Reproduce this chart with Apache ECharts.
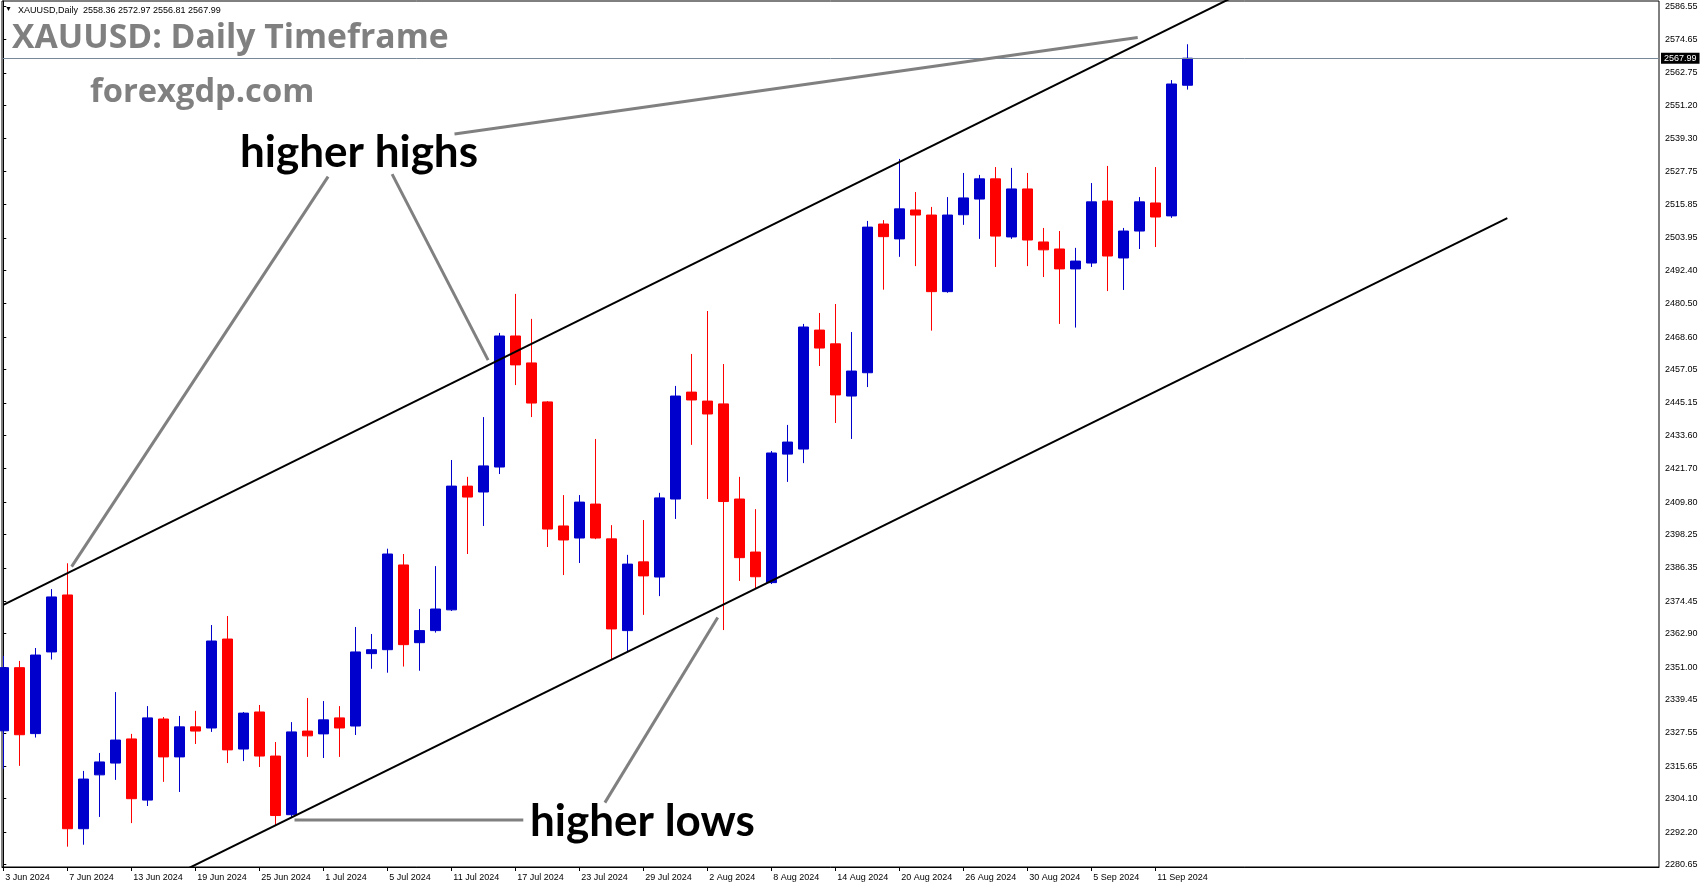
<!DOCTYPE html>
<html><head><meta charset="utf-8">
<script src="https://cdn.jsdelivr.net/npm/echarts@6.0.0/dist/echarts.min.js"></script>
<style>html,body{margin:0;padding:0;background:#fff}#chart{width:1705px;height:888px}</style>
</head><body><div id="chart"></div>
<script>
const dates = ['3 Jun 2024','4 Jun 2024','5 Jun 2024','6 Jun 2024','7 Jun 2024',
'10 Jun 2024','11 Jun 2024','12 Jun 2024','13 Jun 2024','14 Jun 2024',
'17 Jun 2024','18 Jun 2024','19 Jun 2024','20 Jun 2024','21 Jun 2024',
'24 Jun 2024','25 Jun 2024','26 Jun 2024','27 Jun 2024','28 Jun 2024',
'1 Jul 2024','2 Jul 2024','3 Jul 2024','4 Jul 2024','5 Jul 2024',
'8 Jul 2024','9 Jul 2024','10 Jul 2024','11 Jul 2024','12 Jul 2024',
'15 Jul 2024','16 Jul 2024','17 Jul 2024','18 Jul 2024','19 Jul 2024',
'22 Jul 2024','23 Jul 2024','24 Jul 2024','25 Jul 2024','26 Jul 2024',
'29 Jul 2024','30 Jul 2024','31 Jul 2024','1 Aug 2024','2 Aug 2024',
'5 Aug 2024','6 Aug 2024','7 Aug 2024','8 Aug 2024','9 Aug 2024',
'12 Aug 2024','13 Aug 2024','14 Aug 2024','15 Aug 2024','16 Aug 2024',
'19 Aug 2024','20 Aug 2024','21 Aug 2024','22 Aug 2024','23 Aug 2024',
'26 Aug 2024','27 Aug 2024','28 Aug 2024','29 Aug 2024','30 Aug 2024',
'2 Sep 2024','3 Sep 2024','4 Sep 2024','5 Sep 2024','6 Sep 2024',
'9 Sep 2024','10 Sep 2024','11 Sep 2024','12 Sep 2024','13 Sep 2024'];

const opens = [2328.3,2350.8,2327.3,2356.4,2376.7, 2293.4,2312.6,2316.8,2325.4,2303.6,
2332.5,2319.0,2329.7,2329.3,2361.0, 2321.8,2335.0,2319.3,2298.4,2328.2,
2327.2,2332.9,2330.0,2355.8,2357.2, 2387.4,2359.7,2364.0,2371.4,2415.5,
2413.4,2422.3,2469.0,2459.4,2445.5, 2401.3,2397.0,2409.1,2396.7,2364.0,
2388.5,2383.1,2410.9,2449.0,2445.8, 2444.8,2410.9,2392.0,2381.1,2426.9,
2428.7,2471.1,2466.2,2447.6,2455.9, 2508.9,2503.6,2513.9,2512.1,2484.8,
2512.2,2517.8,2525.0,2504.3,2521.4, 2502.5,2500.0,2492.9,2495.0,2517.1,
2496.8,2506.4,2516.4,2511.8,2558.36];

const closes = [2350.8,2326.9,2355.3,2376.0,2293.4, 2311.1,2317.2,2325.0,2304.1,2332.9,
2319.0,2329.7,2328.2,2360.3,2321.5, 2334.6,2319.3,2298.1,2327.9,2326.5,
2332.2,2329.3,2356.4,2357.2,2391.3, 2359.0,2364.0,2371.7,2415.5,2411.6,
2422.7,2469.0,2458.7,2445.1,2400.2, 2396.3,2409.8,2397.0,2364.6,2387.7,
2383.5,2411.3,2447.6,2446.2,2441.2, 2410.0,2390.0,2383.2,2427.3,2431.2,
2472.2,2464.7,2448.0,2456.5,2507.8, 2504.4,2514.3,2512.1,2484.8,2512.1,
2518.2,2525.0,2504.6,2521.4,2503.2, 2499.7,2492.9,2495.7,2516.8,2497.5,
2506.4,2516.8,2511.4,2558.8,2567.99];

const lows = [2314.8,2315.8,2325.9,2353.7,2287.0, 2287.7,2297.6,2310.8,2295.4,2301.5,
2310.1,2306.5,2323.6,2327.9,2316.8, 2317.5,2315.4,2294.7,2297.3,2319.0,
2318.6,2319.0,2326.8,2350.4,2349.0, 2351.2,2349.7,2363.3,2371.0,2391.3,
2401.3,2419.8,2451.5,2440.1,2393.8, 2383.8,2388.1,2396.6,2353.5,2356.4,
2369.6,2376.3,2403.8,2430.2,2410.9, 2364.2,2381.7,2379.0,2380.6,2417.0,
2423.7,2458.3,2438.0,2432.3,2450.8, 2485.5,2497.2,2493.9,2470.9,2484.4,
2508.6,2503.6,2493.6,2503.6,2493.9, 2490.0,2473.3,2472.0,2493.6,2485.0,
2485.4,2500.0,2500.7,2511.1,2556.81];

const highs = [2355.0,2353.2,2357.8,2378.8,2388.0, 2314.0,2320.4,2342.1,2327.2,2337.1,
2333.2,2333.6,2335.4,2366.0,2369.2, 2335.0,2337.5,2324.3,2331.4,2340.0,
2338.9,2337.1,2365.3,2362.8,2393.2, 2391.3,2371.7,2387.0,2424.8,2418.8,
2440.1,2470.1,2484.0,2475.1,2445.8, 2412.3,2412.3,2432.3,2401.6,2391.0,
2403.4,2413.1,2451.2,2462.6,2477.9, 2459.0,2418.8,2407.3,2428.0,2437.3,
2473.3,2477.2,2480.4,2470.4,2510.0, 2510.3,2532.1,2520.3,2515.0,2518.5,
2527.1,2526.4,2529.2,2528.9,2527.1, 2507.5,2506.4,2500.4,2523.5,2529.6,
2507.5,2518.5,2529.2,2560.2,2572.97];

const xTickLabels = ['3 Jun 2024','7 Jun 2024','13 Jun 2024','19 Jun 2024','25 Jun 2024',
'1 Jul 2024','5 Jul 2024','11 Jul 2024','17 Jul 2024','23 Jul 2024','29 Jul 2024',
'2 Aug 2024','8 Aug 2024','14 Aug 2024','20 Aug 2024','26 Aug 2024','30 Aug 2024',
'5 Sep 2024','11 Sep 2024'];

const yTickLabels = [2586.55,2574.65,2562.75,2551.20,2539.30,2527.75,2515.85,2503.95,
2492.40,2480.50,2468.60,2457.05,2445.15,2433.60,2421.70,2409.80,2398.25,2386.35,
2374.45,2362.90,2351.00,2339.45,2327.55,2315.65,2304.10,2292.20,2280.65];

// channel lines: [barIndex, price]
const upperChannel = [[0, 2373.2], [80, 2598.6]];
const lowerChannel = [[10, 2274.9], [94.0, 2511.0]];
// annotation pointer lines: [barIndex, price]
const noteHigh1 = [[20.3, 2525.8], [4.27, 2386.8]];
const noteHigh2 = [[24.3, 2526.7], [30.3, 2460.4]];
const noteHigh3 = [[28.2, 2541.0], [70.9, 2575.4]];
const noteLow1 = [[37.6, 2302.7], [44.65, 2368.7]];
const noteLow2 = [[18.2, 2296.5], [32.5, 2296.5]];

const FONT = "'Liberation Sans', Arial, sans-serif";
const candleData = dates.map((d, i) => [i, opens[i], closes[i], lows[i], highs[i]]);
const last = dates.length - 1;
const lastClose = closes[last];
const headerText = 'XAUUSD,Daily  ' + opens[last].toFixed(2) + ' ' + highs[last].toFixed(2) + ' ' +
  lows[last].toFixed(2) + ' ' + closes[last].toFixed(2);

function lineSeries(pts, color, width) {
  return { type: 'line', data: pts, symbol: 'none', silent: true, clip: true,
    lineStyle: { color: color, width: width }, z: 5 };
}

const chart = echarts.init(document.getElementById('chart'), null, { renderer: 'canvas' });
chart.setOption({
  animation: false,
  backgroundColor: '#ffffff',
  grid: { left: 2, top: 1, width: 1657, height: 866, show: true, borderColor: '#000', borderWidth: 1, backgroundColor: 'transparent' },
  xAxis: {
    type: 'value', min: -0.081, max: 103.48,
    splitLine: { show: false },
    axisLine: { show: true, lineStyle: { color: '#000', width: 1 } },
    axisTick: { show: true, length: 4, lineStyle: { color: '#000' },
      customValues: xTickLabels.map(l => dates.indexOf(l)) },
    axisLabel: { show: true, customValues: xTickLabels.map(l => dates.indexOf(l)),
      formatter: v => dates[Math.round(v)], align: 'left', margin: 6,
      color: '#000', fontSize: 9, fontFamily: FONT, padding: [0, 0, 0, 2] }
  },
  yAxis: {
    type: 'value', position: 'right', min: 2279.76, max: 2588.38, scale: true,
    splitLine: { show: false },
    axisLine: { show: true, lineStyle: { color: '#000', width: 1 } },
    axisTick: { show: true, length: 3, lineStyle: { color: '#000' }, customValues: yTickLabels },
    axisLabel: { show: true, customValues: yTickLabels, formatter: v => v.toFixed(2),
      margin: 6, color: '#000', fontSize: 9, fontFamily: FONT }
  },
  series: [
    {
      type: 'candlestick', data: candleData, barWidth: 10, clip: true, silent: true,
      itemStyle: { color: '#0000CC', color0: '#FF0000', borderColor: '#0000CC', borderColor0: '#FF0000', borderWidth: 1 },
      markLine: {
        silent: true, symbol: ['none', 'none'],
        data: [{ yAxis: lastClose }],
        lineStyle: { color: '#778899', width: 1, type: 'solid' },
        label: { show: true, position: 'end', distance: 2, formatter: lastClose.toFixed(2),
          backgroundColor: '#000', color: '#fff', padding: [1, 3, 1, 3], fontSize: 9, fontFamily: FONT }
      }
    },
    lineSeries(upperChannel, '#000', 2),
    lineSeries(lowerChannel, '#000', 2),
    lineSeries(noteHigh1, '#808080', 3),
    lineSeries(noteHigh2, '#808080', 3),
    lineSeries(noteHigh3, '#808080', 3),
    lineSeries(noteLow1, '#808080', 3),
    lineSeries(noteLow2, '#808080', 3)
  ],
  graphic: [
    { type: 'text', left: 5, top: 6, style: { text: '\u25BC', font: '7px ' + FONT, fill: '#000' }, z: 10 },
    { type: 'text', left: 18, top: 6, style: { text: headerText, font: '9px ' + FONT, fill: '#000' }, z: 10 },
    { type: 'text', x: 12, y: 38, style: { text: 'XAUUSD: Daily Timeframe', font: 'bold 33.7px "Open Sans"', fill: '#808080', verticalAlign: 'middle' }, z: 10 },
    { type: 'text', x: 90, y: 93, style: { text: 'forexgdp.com', font: 'bold 32.7px "Open Sans"', fill: '#808080', verticalAlign: 'middle' }, z: 10 },
    { type: 'text', x: 240, y: 153, style: { text: 'higher highs', font: 'bold 44px Lato', fill: '#000', verticalAlign: 'middle' }, z: 10 },
    { type: 'text', x: 530, y: 822, style: { text: 'higher lows', font: 'bold 44px Lato', fill: '#000', verticalAlign: 'middle' }, z: 10 }
  ]
});
</script></body></html>
